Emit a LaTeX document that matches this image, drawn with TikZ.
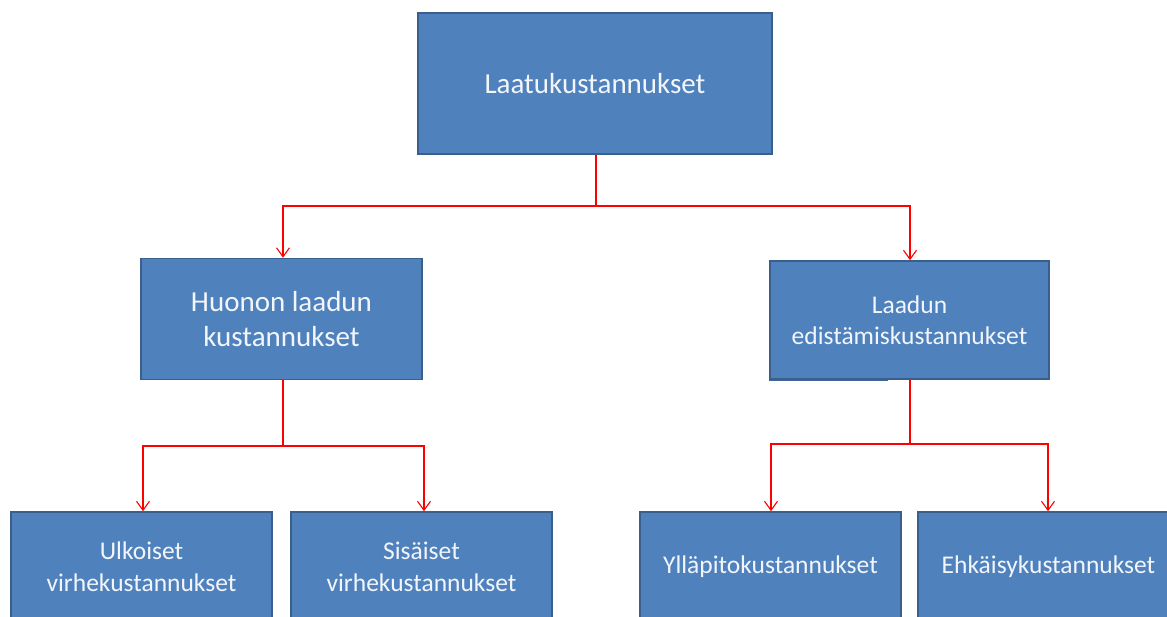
\documentclass[tikz,border=0pt]{standalone}
\usepackage{fontspec}
\setmainfont{Carlito}
\usetikzlibrary{arrows.meta}
\definecolor{boxfill}{HTML}{4F81BD}
\definecolor{boxline}{HTML}{3A5F8C}
\definecolor{boxtext}{HTML}{F2F6FB}
\tikzset{
  costbox/.style={draw=boxline, line width=1.6pt, fill=boxfill, text=boxtext,
    inner sep=0pt, align=center},
  conn/.style={draw=red, line width=1.1pt,
    -{Straight Barb[length=9pt,width=13pt,line width=1.1pt]}},
}
\begin{document}
\begin{tikzpicture}[x=1pt,y=-1pt]
\useasboundingbox (0,0) rectangle (1167,616);
% top level
\node[costbox, minimum width=354pt, minimum height=141pt,
  font=\fontsize{29}{35}\selectfont] (laatu) at (595,83.5) {Laatukustannukset};
% second level
\node[costbox, minimum width=281pt, minimum height=121pt,
  font=\fontsize{29}{35}\selectfont] (huono) at (281.5,319) {Huonon laadun\\kustannukset};
\node[costbox, minimum width=279pt, minimum height=118pt,
  font=\fontsize{25.5}{31}\selectfont] (edist) at (909.5,320) {Laadun\\edistämiskustannukset};
\draw[boxfill!80!black, line width=1.6pt] (769,380.5) -- (888,380.5);
% third level
\node[costbox, minimum width=261pt, minimum height=110pt,
  font=\fontsize{25.5}{32}\selectfont] (ulko) at (141.5,567) {Ulkoiset\\virhekustannukset};
\node[costbox, minimum width=261pt, minimum height=110pt,
  font=\fontsize{25.5}{32}\selectfont] (sisa) at (421.5,567) {Sisäiset\\virhekustannukset};
\node[costbox, minimum width=261pt, minimum height=110pt,
  font=\fontsize{25.5}{32}\selectfont] (yllap) at (770.5,567) {Ylläpitokustannukset};
\node[costbox, minimum width=261pt, minimum height=110pt,
  font=\fontsize{25.5}{32}\selectfont] (ehkai) at (1048.5,567) {Ehkäisykustannukset};
% connectors
\coordinate (j1) at (596,206);
\coordinate (j2) at (283,446);
\coordinate (j3) at (910,444);
\draw[conn] (laatu.south -| j1) -- (j1) -| (huono.north -| j2);
\draw[conn] (j1) -| (edist.north -| j3);
\draw[conn] (huono.south -| j2) -- (j2) -| ([xshift=1.5pt]ulko.north);
\draw[conn] (j2) -| ([xshift=2.5pt]sisa.north);
\draw[conn] (edist.south -| j3) -- (j3) -| ([xshift=0.5pt]yllap.north);
\draw[conn] (j3) -| ([xshift=-0.5pt]ehkai.north);
\end{tikzpicture}
\end{document}
